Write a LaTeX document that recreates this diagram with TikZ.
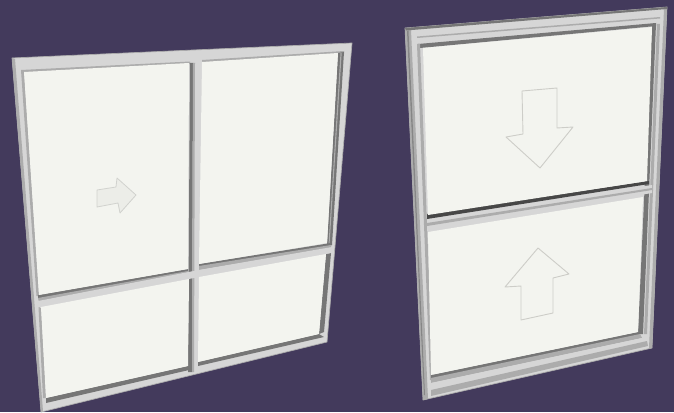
\documentclass[tikz,border=0pt]{standalone}
\definecolor{bgc}{RGB}{67,58,92}
\definecolor{glass}{RGB}{243,244,239}
\definecolor{framec}{RGB}{214,214,214}
\definecolor{midc}{RGB}{172,172,172}
\definecolor{darkc}{RGB}{118,118,118}
\definecolor{arrowc}{RGB}{205,205,200}
\tikzset{
 framepoly/.style={fill=framec,draw=midc,line width=0.7pt,line join=round},
 pane/.style={fill=glass},
 dk/.style={fill=darkc},
 md/.style={fill=midc},
 lt/.style={fill=framec},
 arrowline/.style={draw=arrowc,line width=0.9pt,line join=round},
}
\begin{document}
\begin{tikzpicture}[x=1pt,y=-1pt]
\useasboundingbox (0,0) rectangle (674,412);
\fill[bgc] (0,0) rectangle (674,412);
% --- left window ---
\path[framepoly] (12,58) -- (352,43) -- (327,342) -- (41,412) -- cycle;
\fill[md] (12,58) -- (15,59) -- (43,411) -- (41,412) -- cycle;
% top reveals
\fill[md] (21,70) -- (190,61.5) -- (190,64) -- (24,73) -- cycle;
\fill[md] (202,60) -- (344,51) -- (344,54) -- (202,63) -- cycle;
% mullion
\fill[dk] (190,63) -- (193,63) -- (192,372) -- (188,372) -- cycle;
\fill[md] (193,63) -- (195,63) -- (194,372) -- (192,372) -- cycle;
% left inner jamb
\fill[md] (21,70) -- (24,71) -- (39,296) -- (36.5,296) -- cycle;
\fill[md] (38.5,307) -- (41,307) -- (46,398) -- (43,398) -- cycle;
% right jamb
\fill[dk] (338,53) -- (344,52) -- (332,245) -- (327,246) -- cycle;
\fill[md] (340.5,53) -- (341.7,53) -- (329.5,245) -- (328.5,245) -- cycle;
\fill[dk] (326,254) -- (331,253) -- (324,332) -- (319,334) -- cycle;
% bottom of upper panes
\fill[dk] (38,295) -- (188,269) -- (188,272) -- (38,299) -- cycle;
\fill[dk] (199,264) -- (331,243) -- (331,246) -- (199,267) -- cycle;
\fill[md] (38,298) -- (188,271) -- (188,275) -- (39,302) -- cycle;
\fill[md] (199,266) -- (331,245) -- (331,248) -- (199,270) -- cycle;
% transom
\fill[lt] (38,301) -- (199,270) -- (332,247) -- (331,253) -- (199,277) -- (40,308) -- cycle;
% bottom reveals
\fill[dk] (46,398) -- (188,366) -- (189,370) -- (46,403) -- cycle;
\fill[dk] (198,362) -- (319,334) -- (324,337) -- (198,366) -- cycle;
% panes
\path[pane] (24,72) -- (189,63) -- (188,269) -- (39,295) -- cycle;
\path[pane] (202,62) -- (338,53) -- (327,243) -- (199,264) -- cycle;
\path[pane] (41,307) -- (189,279) -- (188,366) -- (46,398) -- cycle;
\path[pane] (199,277) -- (326,254) -- (319,334) -- (198,362) -- cycle;
\node[coordinate] (la) at (97,190) {};
\path[draw=black!14!glass,line width=0.8pt,line join=round,fill=black!3!glass] (la) -- (116,187) -- (117,178) -- (136,195) -- (120,213) -- (118,203) -- (97,207) -- cycle;
% --- right window ---
\path[framepoly] (405,28) -- (667,7) -- (652,348) -- (423,400) -- cycle;
\fill[md] (405,28) -- (411,30) -- (428,399) -- (423,400) -- cycle;
\fill[darkc!70!midc] (407,31) -- (408.5,31) -- (425,395) -- (424,395) -- cycle;
\fill[md] (664,9) -- (667,7) -- (652,348) -- (649,348) -- cycle;
\fill[darkc] (405,28) -- (667,7) -- (667,9) -- (406,30.5) -- cycle;
\fill[md] (417,36.5) -- (660,17) -- (660,18.5) -- (417,38) -- cycle;
\fill[dk] (418,44) -- (656,23) -- (656,26) -- (420,48) -- cycle;
\fill[md] (417,44) -- (420,44) -- (433,380) -- (430,380) -- cycle;
% right jamb
\fill[dk] (652,24) -- (656,24) -- (643,334) -- (638,334) -- cycle;
\fill[md] (657,24) -- (660,24) -- (647,334) -- (644,334) -- cycle;
% meeting rail
\fill[lt] (427,218) -- (652,185) -- (652,193) -- (427,231) -- cycle;
\fill[md] (427,223) -- (652,188) -- (652,190) -- (427,226) -- cycle;
\fill[black!72] (427,214) -- (649,181) -- (649,184) -- (427,219) -- cycle;
% bottom rail
\fill[dk] (431,375) -- (638,332) -- (640,335) -- (431,379) -- cycle;
\fill[midc] (431,378) -- (640,334) -- (642,338) -- (431,383) -- cycle;
\fill[lt] (431,383) -- (642,338) -- (647,342) -- (431,391) -- cycle;
\fill[midc] (431,390) -- (647,341) -- (648,346) -- (431,396) -- cycle;
% panes
\path[pane] (423,48) -- (652,27) -- (647,181) -- (428,215) -- cycle;
\path[pane] (428,232) -- (643,197) -- (638,332) -- (431,375) -- cycle;
\node[coordinate] (da) at (522,91) {};
\node[coordinate] (ua) at (538,248) {};
\path[arrowline] (da) -- (557,88) -- (557,128) -- (573,127) -- (540,168) -- (506,137) -- (523,134) -- cycle;
\path[arrowline] (ua) -- (569,274) -- (553,278) -- (553,313) -- (521,320) -- (521,286) -- (505,287) -- cycle;
\end{tikzpicture}
\end{document}
